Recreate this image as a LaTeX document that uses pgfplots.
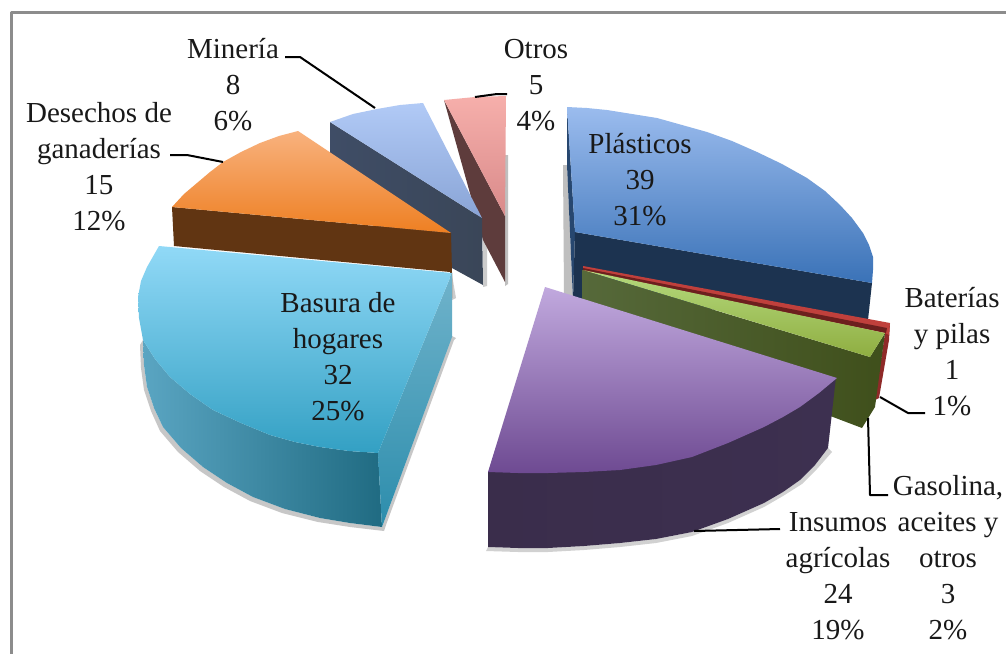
\documentclass[border=0pt]{standalone}
\usepackage{pgfplots}
\pgfplotsset{compat=1.18}
\usepackage{fontspec}
\setmainfont{Liberation Serif}
\definecolor{otS}{HTML}{5E3C3C}\definecolor{otA}{HTML}{F6AFAB}\definecolor{otB}{HTML}{D98A8A}
\definecolor{miS}{HTML}{3F4D66}\definecolor{miT}{HTML}{3A4658}\definecolor{miA}{HTML}{B1CAF6}\definecolor{miB}{HTML}{89A4D6}
\definecolor{plS}{HTML}{1C3350}\definecolor{plL}{HTML}{27476F}\definecolor{plA}{HTML}{9BBCEE}\definecolor{plB}{HTML}{3A72B7}
\definecolor{reA}{HTML}{C0403C}\definecolor{reS}{HTML}{8F2A28}\definecolor{reD}{HTML}{6D1F1E}
\definecolor{grL}{HTML}{56693A}\definecolor{grR}{HTML}{3F4F1B}\definecolor{grA}{HTML}{B5D97D}\definecolor{grB}{HTML}{8FAE41}
\definecolor{puL}{HTML}{3A2D4B}\definecolor{puM}{HTML}{2E2340}\definecolor{puR}{HTML}{3D3050}\definecolor{puA}{HTML}{C1A9DE}\definecolor{puB}{HTML}{6E4A92}
\definecolor{orS}{HTML}{613512}\definecolor{orA}{HTML}{F8B27E}\definecolor{orB}{HTML}{EE7F22}
\definecolor{baL}{HTML}{5AA5C2}\definecolor{baR}{HTML}{206B82}\definecolor{baT}{HTML}{70B3CB}\definecolor{baU}{HTML}{2C8DAC}\definecolor{baA}{HTML}{91D9F7}\definecolor{baB}{HTML}{33A0C3}
\begin{document}
\begin{tikzpicture}
\begin{axis}[width=1006pt,height=653pt,scale only axis,hide axis,
  xmin=0,xmax=1006,ymin=0,ymax=653,y dir=reverse,clip=true,no marks,
  every axis plot/.append style={line join=round}]
% page
\addplot[draw=none,fill=white] coordinates {(0,0)(1006,0)(1006,653)(0,653)} -- cycle;
% frame
\addplot[draw=black!45,line width=3pt] coordinates {(11,660)(11,12)(1010,12)};
% soft shadows
\addplot[draw=none,fill=black!25] coordinates {(563,165)(567,165)(573,300)(564,296)} -- cycle;
\addplot[draw=none,fill=black!25] coordinates {(505,155)(508,155)(508,284)(505,286)} -- cycle;
\addplot[draw=none,fill=black!20] coordinates {(483,240)(487,242)(487,286)(483,287)} -- cycle;
\addplot[draw=none,fill=black!20] coordinates {(452,275)(456,298)(452,300)} -- cycle;
\addplot[draw=none,fill=black!22] coordinates {(140,345)(141,368)(144,390)(151,411)(160,431)(178,452)(200,471)(224,487)(250,501)(282,513)(318,522)(350,527)(384,531)(386,525)(454,340)(456,338)(452,336)(382,527)(350,523)(320,518)(285,509)(253,497)(227,483)(203,467)(181,448)(163,427)(154,408)(147,387)(144,365)(143,340)} -- cycle;
\addplot[draw=none,fill=black!18] coordinates {(486,551)(518,552)(548,552)(584,550)(620,547)(656,543)(692,536)(728,523)(764,507)(783,496)(802,484)(817,469)(832,452)(828,448)(815,465)(800,480)(783,492)(764,503)(728,519)(692,532)(656,539)(620,543)(584,546)(548,548)(518,548)(488,547)} -- cycle;
% Otros
\addplot[draw=none,fill=otS] coordinates {(444,100)(505,216)(505,282)(483,240)} -- cycle;
\addplot[draw=none,top color=otA,bottom color=otB] coordinates {(444,100)(475,97)(506,96)(505,216)} -- cycle;
% Minería
\addplot[draw=none,left color=miS,right color=miT] coordinates {(330,122)(482,218)(483,285)(452,268)(330,200)} -- cycle;
\addplot[draw=none,top color=miA,bottom color=miB] coordinates {(330,122)(353,114)(377,109)(400,105)(423,103)(482,218)} -- cycle;
% Plásticos
\addplot[draw=none,fill=plL] coordinates {(567,107)(575,232)(573,300)(567,165)} -- cycle;
\addplot[draw=none,fill=plS] coordinates {(575,232)(872,283)(868,320)(573,300)} -- cycle;
\addplot[draw=none,top color=plA,bottom color=plB] coordinates {(567,107)(587,108)(607,110)(632,114)(657,118)(682,125)(707,132)(732,141)(757,152)(782,164)(807,178)(825,191)(840,205)(852,218)(863,233)(869,245)(873,257)(873,270)(872,283)(575,232)} -- cycle;
% Baterías
\addplot[draw=none,fill=reS] coordinates {(890,323)(889,340)(879,398)(875,400)(885,333)} -- cycle;
\addplot[draw=none,fill=reA] coordinates {(583,266)(890,323)(889,335)(885,333)(583,271)} -- cycle;
\addplot[draw=none,fill=reD] coordinates {(583,268)(887,328)(886,333)(583,271)} -- cycle;
% Gasolina
\addplot[draw=none,left color=grL,right color=grR] coordinates {(582,270)(870,357)(885,333)(875,407)(862,428)(833,417)(582,330)} -- cycle;
\addplot[draw=none,top color=grA,bottom color=grB] coordinates {(583,270)(885,333)(870,357)} -- cycle;
% Insumos
\addplot[draw=none,left color=puL,middle color=puM,right color=puR] coordinates {(488,472)(836,377)(828,448)(815,465)(800,480)(783,492)(764,503)(728,519)(692,532)(656,539)(620,543)(584,546)(548,548)(518,548)(488,547)} -- cycle;
\addplot[draw=none,top color=puA,bottom color=puB] coordinates {(545,287)(837,378)(819,393)(800,407)(783,417)(764,427)(728,443)(692,457)(656,465)(620,470)(584,472)(548,473)(518,473)(488,472)} -- cycle;
% Desechos
\addplot[draw=none,fill=orS] coordinates {(172,207)(451,233)(452,273)(452,298)(450,298)(450,272)(174,246)} -- cycle;
\addplot[draw=none,top color=orA,bottom color=orB] coordinates {(172,207)(184,194)(197,183)(210,172)(223,162)(241,152)(260,143)(279,136)(298,131)(451,233)} -- cycle;
% Basura side faces
\addplot[draw=none,left color=baL,right color=baR] coordinates {(143,340)(144,365)(147,387)(154,408)(163,427)(181,448)(203,467)(227,483)(253,497)(285,509)(320,518)(350,523)(382,527)(378,453)(349,451)(320,447)(295,442)(270,435)(241,423)(213,410)(190,394)(170,377)(155,359)} -- cycle;
\addplot[draw=none,top color=baT,bottom color=baU] coordinates {(452,273)(452,337)(382,527)(378,453)} -- cycle;
\addplot[draw=none,top color=baA,bottom color=baB] coordinates {(159,246)(452,273)(378,453)(349,451)(320,447)(295,442)(270,435)(241,423)(213,410)(190,394)(170,377)(155,359)(143,340)(139,318)(138,297)(141,281)(147,267)} -- cycle;
% leaders
\addplot[draw=black,line width=2pt] coordinates {(285,57)(300,57)(375,108)};
\addplot[draw=black,line width=2pt] coordinates {(507,94)(497,94)(475,97)};
\addplot[draw=black,line width=2pt] coordinates {(170,155)(187,155)(223,162)};
\addplot[draw=black,line width=2pt] coordinates {(880,397)(908,413)(925,413)};
\addplot[draw=black,line width=2pt] coordinates {(868,418)(870,495)(888,495)};
\addplot[draw=black,line width=2pt] coordinates {(694,531)(780,529)};
% labels
\tikzset{lab/.style={align=center,inner sep=0pt,font=\fontsize{29}{36}\selectfont,text=black!90}}
\node[lab] at (axis cs:233,85) {Minería\\8\\6\%};
\node[lab] at (axis cs:536,85) {Otros\\5\\4\%};
\node[lab] at (axis cs:99,167) {Desechos de\\ganaderías\\15\\12\%};
\node[lab] at (axis cs:640,180) {Plásticos\\39\\31\%};
\node[lab] at (axis cs:952,352) {Baterías\\y pilas\\1\\1\%};
\node[lab] at (axis cs:338,357) {Basura de\\hogares\\32\\25\%};
\node[lab] at (axis cs:948,558) {Gasolina,\\aceites y\\otros\\3\\2\%};
\node[lab] at (axis cs:838,576) {Insumos\\agrícolas\\24\\19\%};
\end{axis}
\end{tikzpicture}
\end{document}
